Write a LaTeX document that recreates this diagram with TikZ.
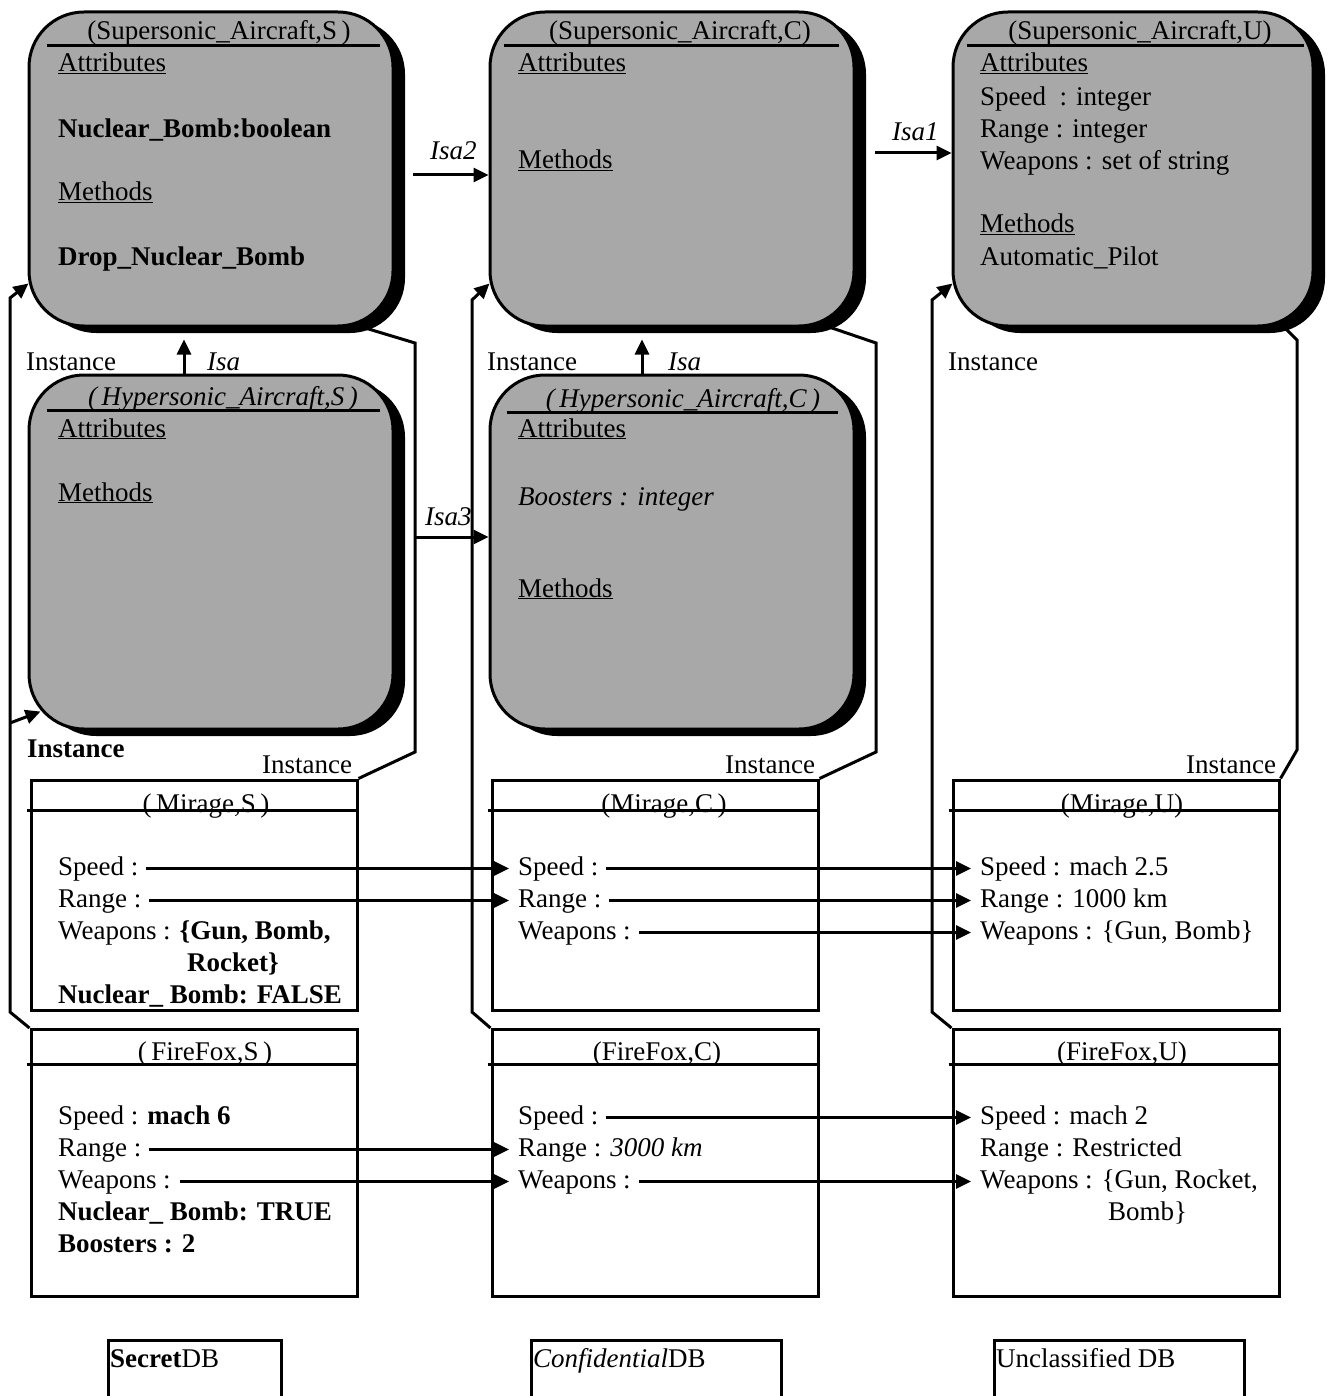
\documentclass[tikz,border=0pt]{standalone}
\usepackage{fontspec}
\setmainfont{Liberation Serif}
\usetikzlibrary{positioning}
\usetikzlibrary{calc}
\usetikzlibrary{arrows.meta}
\usetikzlibrary{shadows}
\pgfdeclarelayer{nodelayer}
\pgfdeclarelayer{edgelayer}
\pgfsetlayers{edgelayer,nodelayer,main}
\definecolor{classgray}{RGB}{168,168,168}
\tikzstyle{none}=[inner sep=0pt]
\tikzstyle{txt}=[inner sep=0pt, anchor=base west, text height=19pt, text depth=6pt]
\tikzstyle{ttl}=[inner sep=0pt, anchor=base]
\tikzset{classbox/.style={rectangle, rounded corners=55pt, draw=black, line width=3pt,
fill=classgray, minimum width=364pt, inner sep=0pt,
drop shadow={shadow xshift=12pt, shadow yshift=-7pt, fill=black, opacity=1}}}
\tikzset{objbox/.style={rectangle, draw=black, line width=3pt, minimum width=326pt, inner sep=0pt}}
\tikzset{wire/.style={line width=3pt}}
\tikzset{link/.style={wire, -{Triangle[length=15pt,width=14pt]}}}

\begin{document}
\begin{tikzpicture}[x=1pt, y=-1pt, every node/.style={font=\fontsize{27}{32}\selectfont}]
    \useasboundingbox (0,0) rectangle (1331,1396);
    			\begin{pgfonlayer}{nodelayer}
    				% classes
    				\node [classbox, minimum height=314pt] (supS) at (211,169) {};
    				\node [classbox, minimum height=314pt] (supC) at (672,169) {};
    				\node [classbox, minimum height=314pt, minimum width=360pt] (supU) at (1133,169) {};
    				\node [classbox, minimum height=354pt] (hypS) at (211,552) {};
    				\node [classbox, minimum height=354pt] (hypC) at (672,552) {};
    				% objects
    				\node [objbox, minimum height=230pt] (mirS) at (194,895) {};
    				\node [objbox, minimum height=230pt] (mirC) at (655,895) {};
    				\node [objbox, minimum height=230pt] (mirU) at (1116,895) {};
    				\node [objbox, minimum height=267pt] (ffS) at (194,1163) {};
    				\node [objbox, minimum height=267pt] (ffC) at (655,1163) {};
    				\node [objbox, minimum height=267pt] (ffU) at (1116,1163) {};
    				% class texts
    				\node [ttl] (supS-t) at (219,40) {(Supersonic\_Aircraft,S\,)};
    				\node [txt] (supS-a) at (58,72) {\underline{Attributes}};
    				\node [txt] (supS-1) at (58,138) {\textbf{Nuclear\_Bomb:boolean}};
    				\node [txt] (supS-m) at (58,201) {\underline{Methods}};
    				\node [txt] (supS-2) at (58,266) {\textbf{Drop\_Nuclear\_Bomb}};
    				\node [ttl] (supC-t) at (680,40) {(Supersonic\_Aircraft,C)};
    				\node [txt] (supC-a) at (518,72) {\underline{Attributes}};
    				\node [txt] (supC-m) at (518,169) {\underline{Methods}};
    				\node [ttl] (supU-t) at (1140,40) {(Supersonic\_Aircraft,U)};
    				\node [txt] (supU-a) at (980,72) {\underline{Attributes}};
    				\node [txt] (supU-1) at (980,106) {Speed~~: integer};
    				\node [txt] (supU-2) at (980,138) {Range : integer};
    				\node [txt] (supU-3) at (980,170) {Weapons : set of string};
    				\node [txt] (supU-m) at (980,233) {\underline{Methods}};
    				\node [txt] (supU-4) at (980,266) {Automatic\_Pilot};
    				\node [ttl] (hypS-t) at (223,405) {\itshape(\,Hypersonic\_Aircraft,S\,)};
    				\node [txt] (hypS-a) at (58,437) {\underline{Attributes}};
    				\node [txt] (hypS-m) at (58,501) {\underline{Methods}};
    				\node [ttl] (hypC-t) at (683,407) {\itshape(\,Hypersonic\_Aircraft,C\,)};
    				\node [txt] (hypC-a) at (518,437) {\underline{Attributes}};
    				\node [txt] (hypC-1) at (518,505) {\textit{Boosters : integer}};
    				\node [txt] (hypC-m) at (518,597) {\underline{Methods}};
    				% object texts
    				\node [ttl] (mirS-t) at (206,812) {(\,Mirage,S\,)};
    				\node [txt] (mirS-1) at (58,875) {Speed :};
    				\node [txt] (mirS-2) at (58,907) {Range :};
    				\node [txt] (mirS-3) at (58,939) {Weapons : \textbf{\{Gun, Bomb,}};
    				\node [txt] (mirS-4) at (187,971) {\textbf{Rocket\}}};
    				\node [txt] (mirS-5) at (58,1003) {\textbf{Nuclear\_ Bomb: FALSE}};
    				\node [ttl] (mirC-t) at (664,812) {(Mirage,C\,)};
    				\node [txt] (mirC-1) at (518,875) {Speed :};
    				\node [txt] (mirC-2) at (518,907) {Range :};
    				\node [txt] (mirC-3) at (518,939) {Weapons :};
    				\node [ttl] (mirU-t) at (1122,812) {(Mirage,U)};
    				\node [txt] (mirU-1) at (980,875) {Speed : mach 2.5};
    				\node [txt] (mirU-2) at (980,907) {Range : 1000 km};
    				\node [txt] (mirU-3) at (980,939) {Weapons : \{Gun, Bomb\}};
    				\node [ttl] (ffS-t) at (205,1060) {(\,FireFox,S\,)};
    				\node [txt] (ffS-1) at (58,1124) {Speed : \textbf{mach 6}};
    				\node [txt] (ffS-2) at (58,1156) {Range :};
    				\node [txt] (ffS-3) at (58,1188) {Weapons :};
    				\node [txt] (ffS-4) at (58,1220) {\textbf{Nuclear\_ Bomb: TRUE}};
    				\node [txt] (ffS-5) at (58,1252) {\textbf{Boosters : 2}};
    				\node [ttl] (ffC-t) at (657,1060) {(FireFox,C)};
    				\node [txt] (ffC-1) at (518,1124) {Speed :};
    				\node [txt] (ffC-2) at (518,1156) {Range : \textit{3000 km}};
    				\node [txt] (ffC-3) at (518,1188) {Weapons :};
    				\node [ttl] (ffU-t) at (1122,1060) {(FireFox,U)};
    				\node [txt] (ffU-1) at (980,1124) {Speed : mach 2};
    				\node [txt] (ffU-2) at (980,1156) {Range : Restricted};
    				\node [txt] (ffU-3) at (980,1188) {Weapons : \{Gun, Rocket,};
    				\node [txt] (ffU-4) at (1108,1220) {Bomb\}};
    				% labels
    				\node [txt] (isa-S) at (207,370) {\textit{Isa}};
    				\node [txt] (isa-C) at (668,370) {\textit{Isa}};
    				\node [txt] (isa1) at (892,141) {\textit{Isa1}};
    				\node [txt] (isa2) at (430,160) {\textit{Isa2}};
    				\node [txt] (isa3) at (425,525) {\textit{Isa3}};
    				\node [txt] (inst-S) at (26,370) {Instance};
    				\node [txt] (inst-C) at (487,370) {Instance};
    				\node [txt] (inst-U) at (948,370) {Instance};
    				\node [txt] (inst-B) at (27,757) {\textbf{Instance}};
    				\node [txt] (inst-S2) at (262,773) {Instance};
    				\node [txt] (inst-C2) at (725,773) {Instance};
    				\node [txt] (inst-U2) at (1186,773) {Instance};
    				% databases
    				\node [txt] (dbS) at (110,1367) {\textbf{Secret}DB};
    				\node [txt] (dbC) at (533,1367) {\textit{Confidential}DB};
    				\node [txt] (dbU) at (996,1367) {Unclassified DB};
    				\coordinate (sR1) at (415,752);
    				\coordinate (sR2) at (415,343);
    				\coordinate (cR1) at (876,752);
    				\coordinate (cR2) at (876,343);
    				\coordinate (uR1) at (1297,750);
    				\coordinate (uR2) at (1297,340);
    				\coordinate (sL1) at (10,1012);
    				\coordinate (sL2) at (10,298);
    				\coordinate (sL3) at (10,723);
    				\coordinate (cL1) at (472,1012);
    				\coordinate (cL2) at (472,300);
    				\coordinate (uL1) at (932,1012);
    				\coordinate (uL2) at (932,300);
    				\coordinate (isa1in) at (875,153);
    				\coordinate (isa2in) at (413,175);
    				\coordinate (isa3in) at (415,537);
    			\end{pgfonlayer}
    			\begin{pgfonlayer}{edgelayer}
    				% instance links
    				\draw [wire] (mirS.north east) -- (sR1) -- (sR2) -- ([xshift=-31pt]supS.south east);
    				\draw [wire] (mirC.north east) -- (cR1) -- (cR2) -- ([xshift=-25pt]supC.south east);
    				\draw [wire] (mirU.north east) -- (uR1) -- (uR2) -- ([xshift=-30pt]supU.south east);
    				\draw [link] (ffS.north west) -- (sL1) -- (sL2) -- ([xshift=1pt,yshift=44pt]supS.south west);
    				\draw [link] (sL3) -- ([xshift=13pt,yshift=19pt]hypS.south west);
    				\draw [link] (ffC.north west) -- (cL1) -- (cL2) -- ([xshift=1pt,yshift=44pt]supC.south west);
    				\draw [link] (ffU.north west) -- (uL1) -- (uL2) -- ([xshift=1pt,yshift=44pt]supU.south west);
    				% isa links
    				\draw [link] ([xshift=-27pt]hypS.north) -- ([xshift=-27pt,yshift=-12pt]supS.south);
    				\draw [link] ([xshift=-30pt]hypC.north) -- ([xshift=-30pt,yshift=-12pt]supC.south);
    				\draw [link] (isa1in) -- (isa1in -| supU.west);
    				\draw [link] (isa2in) -- (isa2in -| supC.west);
    				\draw [link] (isa3in) -- (isa3in -| hypC.west);
    				% value links
    				\draw [link] ([xshift=7pt]mirS-1.east) -- ([xshift=-9pt]mirC-1.west);
    				\draw [link] ([xshift=7pt]mirS-2.east) -- ([xshift=-9pt]mirC-2.west);
    				\draw [link] ([xshift=7pt]mirC-1.east) -- ([xshift=-9pt]mirU-1.west);
    				\draw [link] ([xshift=7pt]mirC-2.east) -- ([xshift=-9pt]mirU-2.west);
    				\draw [link] ([xshift=8pt]mirC-3.east) -- ([xshift=-9pt]mirU-3.west);
    				\draw [link] ([xshift=7pt]ffC-1.east) -- ([xshift=-9pt]ffU-1.west);
    				\draw [link] ([xshift=7pt]ffS-2.east) -- ([xshift=-9pt]ffC-2.west);
    				\draw [link] ([xshift=9pt]ffS-3.east) -- ([xshift=-9pt]ffC-3.west);
    				\draw [link] ([xshift=8pt]ffC-3.east) -- ([xshift=-9pt]ffU-3.west);
    			\end{pgfonlayer}
    % title rules
    \draw [wire] ([xshift=19pt,yshift=-35pt]supS.north west) -- ([xshift=-15pt,yshift=-35pt]supS.north east);
    \draw [wire] ([xshift=15pt,yshift=-35pt]supC.north west) -- ([xshift=-17pt,yshift=-35pt]supC.north east);
    \draw [wire] ([xshift=15pt,yshift=-35pt]supU.north west) -- ([xshift=-11pt,yshift=-35pt]supU.north east);
    \draw [wire] ([xshift=19pt,yshift=-37pt]hypS.north west) -- ([xshift=-15pt,yshift=-37pt]hypS.north east);
    \draw [wire] ([xshift=18pt,yshift=-39pt]hypC.north west) -- ([xshift=-18pt,yshift=-39pt]hypC.north east);
    \draw [wire] ([xshift=-3pt,yshift=-32pt]mirS.north west) -- ([yshift=-32pt]mirS.north east);
    \draw [wire] ([xshift=-3pt,yshift=-32pt]mirC.north west) -- ([yshift=-32pt]mirC.north east);
    \draw [wire] ([xshift=-3pt,yshift=-32pt]mirU.north west) -- ([yshift=-32pt]mirU.north east);
    \draw [wire] ([xshift=-3pt,yshift=-36pt]ffS.north west) -- ([yshift=-36pt]ffS.north east);
    \draw [wire] ([xshift=-3pt,yshift=-36pt]ffC.north west) -- ([yshift=-36pt]ffC.north east);
    \draw [wire] ([xshift=-3pt,yshift=-36pt]ffU.north west) -- ([yshift=-36pt]ffU.north east);
    % database frames
    \draw [wire] (108,1396) |- (281,1340) -- (281,1396);
    \draw [wire] (531,1396) |- (781,1340) -- (781,1396);
    \draw [wire] (994,1396) |- (1244,1340) -- (1244,1396);
\end{tikzpicture}
\end{document}
